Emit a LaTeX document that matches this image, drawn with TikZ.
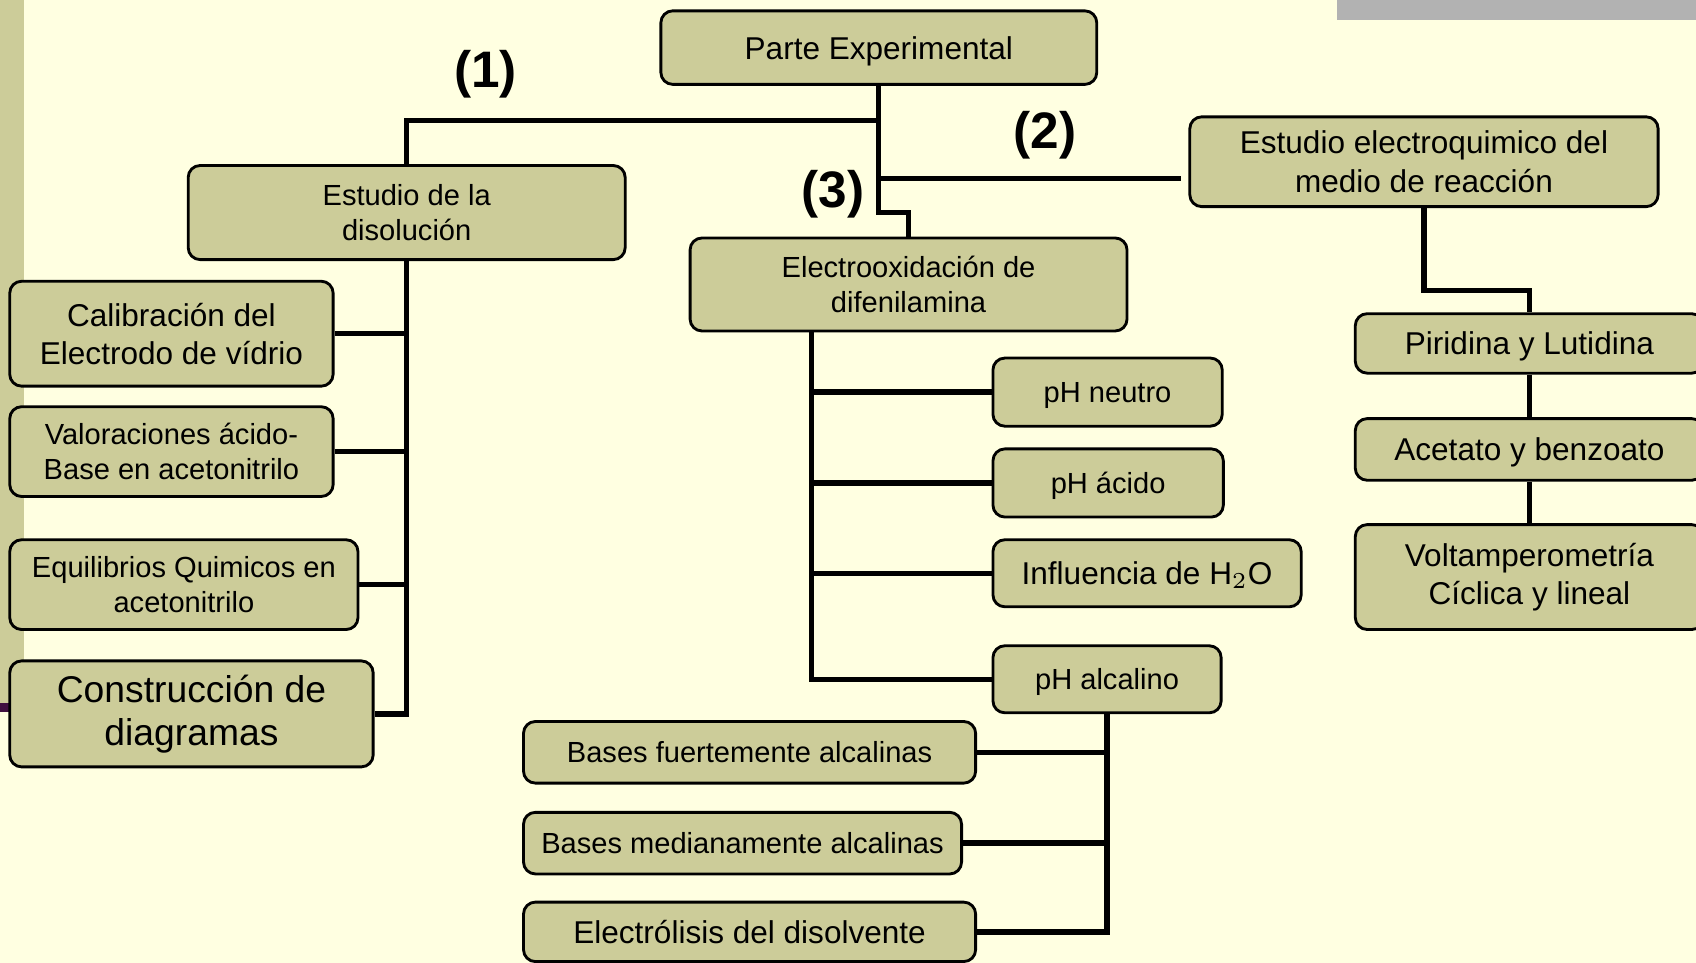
\documentclass[tikz,border=0pt]{standalone}
\usepackage{fontspec}
\setmainfont{Liberation Sans}
\usepackage{tikz}
\usetikzlibrary{calc}

\definecolor{fondo}{RGB}{255,255,225}
\definecolor{caqui}{RGB}{204,204,153}
\definecolor{gris}{RGB}{178,178,178}
\definecolor{morado}{RGB}{64,16,64}

\begin{document}
\begin{tikzpicture}[x=0.1mm,y=-0.1mm,
    caja/.style={draw,fill=caqui,rounded corners=1.1mm,line width=0.75pt,align=center,inner sep=0pt},
    sola/.style={text depth=0pt},
    chico/.style={font=\fontsize{7.65}{9.3}\selectfont},
    medio/.style={font=\fontsize{8.3}{10}\selectfont},
    linea/.style={line width=1.4pt},
    num/.style={font=\fontsize{13.5}{14}\selectfont\bfseries}]
                \useasboundingbox (0,0) rectangle (1568,890);
                \clip (0,0) rectangle (1568,890);
                \fill[fondo] (0,0) rectangle (1568,890);
                \fill[caqui] (0,0) rectangle (22,650);
                \fill[morado] (0,650) rectangle (8,658);
                \fill[gris] (1236,0) rectangle (1568,18.5);
                % cajas
                \node[caja,medio,sola,minimum width=40.3mm,minimum height=6.8mm] (parte) at (812.5,44) {Parte Experimental};
                \node[caja,chico,minimum width=40.4mm,minimum height=8.7mm] (disol) at (376,196.5) {Estudio de la\\disolución};
                \node[caja,chico,minimum width=40.4mm,minimum height=8.6mm] (oxid) at (840,263) {Electrooxidación de\\difenilamina};
                \node[caja,medio,minimum width=43.3mm,minimum height=8.3mm] (medio) at (1316.5,149.5) {Estudio electroquimico del\\medio de reacción};
                \node[caja,medio,minimum width=29.9mm,minimum height=9.7mm] (calib) at (158.5,308.5) {Calibración del\\Electrodo de vídrio};
                \node[caja,chico,minimum width=29.9mm,minimum height=8.3mm] (valor) at (158.5,417.5) {Valoraciones ácido-\\Base en acetonitrilo};
                \node[caja,chico,minimum width=32.2mm,minimum height=8.3mm] (equil) at (170,540.5) {Equilibrios Quimicos en\\acetonitrilo};
                \node[caja,minimum width=33.6mm,minimum height=9.8mm,font=\fontsize{9.8}{11.4}\selectfont] (constr) at (177,660) {Construcción de\\diagramas};
                \node[caja,chico,sola,minimum width=21.2mm,minimum height=6.3mm] (neutro) at (1024,362.5) {pH neutro};
                \node[caja,chico,sola,minimum width=21.3mm,minimum height=6.3mm] (acido) at (1024.5,446.5) {pH ácido};
                \node[caja,medio,sola,minimum width=28.5mm,minimum height=6.2mm] (agua) at (1060.5,530) {Influencia de H$_2$O};
                \node[caja,chico,sola,minimum width=21.1mm,minimum height=6.2mm] (alcal) at (1023.5,628) {pH alcalino};
                \node[caja,chico,sola,minimum width=41.8mm,minimum height=5.7mm] (fuerte) at (693,695.5) {Bases fuertemente alcalinas};
                \node[caja,chico,sola,minimum width=40.5mm,minimum height=5.7mm] (mediana) at (686.5,779.5) {Bases medianamente alcalinas};
                \node[caja,medio,sola,minimum width=41.8mm,minimum height=5.5mm] (electrol) at (693,861.5) {Electrólisis del disolvente};
                \node[caja,medio,sola,minimum width=32.2mm,minimum height=5.5mm] (pirid) at (1414,317.5) {Piridina y Lutidina};
                \node[caja,medio,sola,minimum width=32.2mm,minimum height=5.7mm] (acet) at (1414,415.5) {Acetato y benzoato};
                \node[caja,medio,minimum width=32.2mm,minimum height=9.7mm] (voltam) at (1414,533.5) {Voltamperometría\\Cíclica y lineal};
                % numeros
                \node[num] (n1) at (449,69) {(1)};
                \node[num] (n2) at (966,125) {(2)};
                \node[num] (n3) at (770,180) {(3)};
                % lineas
                \draw[linea] (parte.south) -- ++(0,117) -| (oxid.north);
                \draw[linea] (parte.south) ++(0,32) -| (disol.north);
                \draw[linea] (parte.south) ++(0,86) coordinate (r2) -- ([xshift=-0.7mm]medio.west |- r2);
                \draw[linea] (disol.south) |- (constr.east);
                \foreach \c in {calib,valor,equil}
                    \draw[linea] (\c.east) -- (\c.east -| disol.south);
                \coordinate (t3) at ([xshift=-9mm]oxid.south);
                \draw[linea] (t3) |- (alcal.west);
                \foreach \c in {neutro,acido,agua}
                    \draw[linea] (\c.west) -- (\c.west -| t3);
                \draw[linea] (alcal.south) |- (electrol.east);
                \foreach \c in {fuerte,mediana}
                    \draw[linea] (\c.east) -- (\c.east -| alcal.south);
                \draw[linea] (medio.south) -- ++(0,76) -| (pirid.north);
                \draw[linea] (pirid.south) -- (acet.north);
                \draw[linea] (acet.south) -- (voltam.north);
\end{tikzpicture}
\end{document}
